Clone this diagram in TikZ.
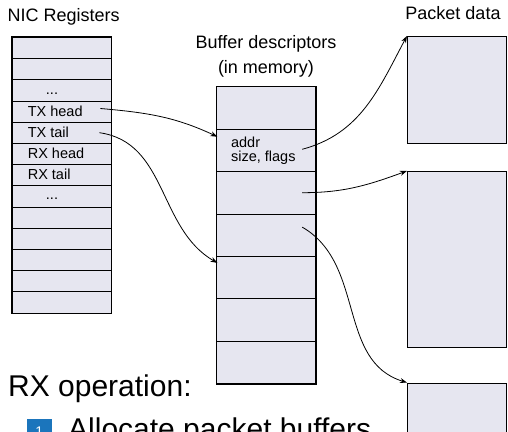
\documentclass[tikz,border=0pt]{standalone}
\usepackage{fontspec}
\setmainfont{Liberation Sans}
\usepackage{tikz}
\usetikzlibrary{arrows.meta,positioning,calc}
\definecolor{cellfill}{HTML}{E6E6F0}
\definecolor{stepblue}{HTML}{1B75BC}
\tikzset{
  cell/.style={draw=black,fill=cellfill,line width=0.8pt,inner sep=0pt,minimum width=99pt,minimum height=#1},
  regcell/.style={cell=21.2pt},
  desccell/.style={cell=42.4pt},
  pktbox/.style={cell=#1,line width=1.5pt},
  frame/.style={draw=black,line width=1.5pt},
  title/.style={font=\fontsize{18}{20}\selectfont,inner sep=0pt},
  celltxt/.style={font=\fontsize{14.5}{14}\selectfont,inner sep=0pt,align=left},
  bigtxt/.style={font=\fontsize{30}{32}\selectfont,inner sep=0pt,anchor=base west},
  ptr/.style={-{Stealth[length=7pt,width=5pt]},line width=0.8pt},
}

\begin{document}
\begin{tikzpicture}[x=1pt,y=1pt]
  \useasboundingbox (0,0) rectangle (508,-431);
  \clip (0,0) rectangle (508,-431);

  % register file
  \node[title,anchor=base west] (regtitle) at (7.5,-21.5) {NIC Registers};
  \foreach \i in {1,...,13}
    \node[regcell] (reg\i) at (61.5,{-37.3-(\i-0.5)*21.2}) {};
  \draw[frame] (reg1.north west) rectangle (reg13.south east);
  \node[celltxt,anchor=base] (dots1) at ($(reg3.center)+(-9.5,-4.5)$) {...};
  \foreach \i/\t in {4/TX head,5/TX tail,6/RX head,7/RX tail}
    \node[celltxt,anchor=base west] (lbl\i) at ($(reg\i.west)+(16,-4.5)$) {\t};
  \node[celltxt,anchor=base] (dots2) at ($(reg8.center)+(-9.5,-3)$) {...};

  % descriptor ring
  \node[title] (desctitle) at (266,-44) {Buffer descriptors};
  \node[title] (descsub) at (266,-69) {(in memory)};
  \foreach \i in {1,...,7}
    \node[desccell] (desc\i) at (266.3,{-86.7-(\i-0.5)*42.4}) {};
  \draw[frame] (desc1.north west) rectangle (desc7.south east);
  \node[celltxt,anchor=west] (descfields) at ($(desc2.west)+(14.5,0)$) {addr\\size, flags};

  % packet buffers
  \node[title,anchor=base] (pkttitle) at (453,-19.5) {Packet data};
  \node[pktbox=106.6pt] (pkt1) at (457.2,-90) {};
  \node[pktbox=176pt] (pkt2) at (457.2,-259.7) {};
  \node[pktbox=110pt] (pkt3) at (457.2,-438.3) {};

  % pointers
  \draw[ptr] ($(reg4.east)+(-11,3)$) to[out=-5,in=155] ($(desc2.north west)+(1,-8)$);
  \draw[ptr] ($(reg5.east)+(-12,0)$) to[out=-8,in=150] ($(desc5.north west)+(1,-7)$);
  \draw[ptr] ($(desc2.east)+(-14,1)$) to[out=15,in=-118] (pkt1.north west);
  \draw[ptr] ($(desc3.east)+(-14,0)$) to[out=0,in=-160] (pkt2.north west);
  \draw[ptr] ($(desc4.east)+(-14,8)$) to[out=-30,in=163] (pkt3.north west);

  % steps
  \node[bigtxt] (rxop) at (8,-396) {RX operation:};
  \node[fill=stepblue,text=white,minimum size=25pt,inner sep=0pt,font=\fontsize{14}{14}\selectfont] (num1) at (39.2,-431.5) {1};
  \node[bigtxt] (step1) at (68,-439.2) {Allocate packet buffers};
\end{tikzpicture}
\end{document}
